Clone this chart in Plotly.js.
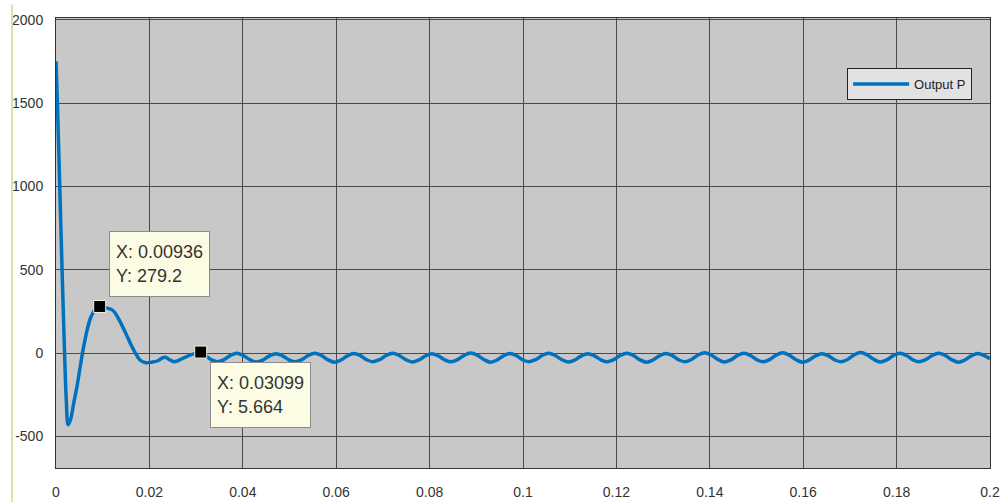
<!DOCTYPE html>
<html>
<head>
<meta charset="utf-8">
<script src="https://cdn.plot.ly/plotly-3.0.1.min.js"></script>
<style>html,body{margin:0;padding:0;background:#fff;}#chart{width:1007px;height:502px;}</style>
</head>
<body>
<div id="chart"></div>
<script>
// ---- data ----
const seriesName = "Output P";

const time = [
  0, 0.0003, 0.0008, 0.0013, 0.0018, 0.0022, 0.0026, 0.0031, 0.0038, 0.0045,
  0.0052, 0.0058, 0.0066, 0.0074, 0.0084, 0.00936, 0.0108, 0.0122, 0.0133, 0.0144,
  0.0154, 0.0163, 0.0172, 0.018, 0.0192, 0.0205, 0.0217, 0.0226, 0.0234, 0.0243,
  0.0252, 0.0262, 0.0273, 0.0285, 0.0298, 0.03099,
  0.0320, 0.0332,
  0.0345, 0.0359, 0.0373, 0.0387, 0.0401, 0.0415,
  0.0429, 0.0443, 0.0457, 0.0471, 0.0485, 0.0499,
  0.0512, 0.0526, 0.0540, 0.0554, 0.0568, 0.0582,
  0.0596, 0.0610, 0.0624, 0.0638, 0.0652, 0.0666,
  0.0679, 0.0693, 0.0707, 0.0721, 0.0735, 0.0749,
  0.0763, 0.0777, 0.0791, 0.0805, 0.0819, 0.0833,
  0.0846, 0.0860, 0.0874, 0.0888, 0.0902, 0.0916,
  0.0930, 0.0944, 0.0958, 0.0972, 0.0986, 0.1000,
  0.1013, 0.1027, 0.1041, 0.1055, 0.1069, 0.1083,
  0.1097, 0.1111, 0.1125, 0.1139, 0.1153, 0.1167,
  0.1180, 0.1194, 0.1208, 0.1222, 0.1236, 0.1250,
  0.1264, 0.1278, 0.1292, 0.1306, 0.1320, 0.1334,
  0.1347, 0.1361, 0.1375, 0.1389, 0.1403, 0.1417,
  0.1431, 0.1445, 0.1459, 0.1473, 0.1487, 0.1501,
  0.1514, 0.1528, 0.1542, 0.1556, 0.1570, 0.1584,
  0.1598, 0.1612, 0.1626, 0.1640, 0.1654, 0.1668,
  0.1681, 0.1695, 0.1709, 0.1723, 0.1737, 0.1751,
  0.1765, 0.1779, 0.1793, 0.1807, 0.1821, 0.1835,
  0.1848, 0.1862, 0.1876, 0.1890, 0.1904, 0.1918,
  0.1932, 0.1946, 0.1960, 0.1974, 0.1988, 0.2000
];

const power = [
  1750, 1500, 1000, 500, 30, -280, -430, -400, -300, -200,
  -80, 20, 130, 210, 262, 279.2, 270, 255, 210, 150,
  90, 36, -10, -42, -58, -55, -48, -32, -25, -40,
  -52, -45, -30, -15, -2, 5.664,
  -14, -40,
  -52, -41, -16, -2, -15, -40,
  -54, -42, -17, -4, -17, -41,
  -53, -40, -15, -1, -14, -40,
  -55, -42, -17, -3, -16, -42,
  -52, -40, -15, -2, -15, -40,
  -54, -42, -18, -5, -18, -42,
  -53, -40, -14, 0, -13, -39,
  -55, -43, -17, -3, -16, -42,
  -52, -40, -15, -2, -15, -40,
  -54, -42, -17, -4, -17, -41,
  -53, -40, -15, -1, -14, -40,
  -55, -42, -17, -3, -16, -42,
  -52, -39, -12, 2, -12, -38,
  -54, -41, -16, -2, -15, -41,
  -53, -40, -13, 1, -13, -39,
  -55, -43, -18, -4, -17, -42,
  -52, -39, -11, 3, -11, -38,
  -54, -41, -16, -2, -15, -41,
  -53, -40, -15, -1, -14, -40,
  -55, -42, -17, -3, -16, -35
];

// data tips
const tipX = [0.00936, 0.03099];
const tipY = [279.2, 5.664];
const tipXLabel = ["0.00936", "0.03099"];
const tipYLabel = ["279.2", "5.664"];

// axis ticks
const xTicks = [0, 0.02, 0.04, 0.06, 0.08, 0.1, 0.12, 0.14, 0.16, 0.18, 0.2];
const xTickText = ["0", "0.02", "0.04", "0.06", "0.08", "0.1", "0.12", "0.14", "0.16", "0.18", "0.2"];
const yTicks = [-500, 0, 500, 1000, 1500, 2000];
const yTickText = ["-500", "0", "500", "1000", "1500", "2000"];

// ---- chart ----
const FONT = "Liberation Sans, Arial, sans-serif";

const traces = [
  {
    x: time, y: power, type: "scatter", mode: "lines", name: seriesName,
    line: {color: "#0072BD", width: 3.5, shape: "spline", smoothing: 1},
    hoverinfo: "skip"
  },
  {
    x: tipX, y: tipY, type: "scatter", mode: "markers", showlegend: false,
    marker: {symbol: "square", size: 12, color: "#000", line: {color: "#f4f4e0", width: 1}},
    hoverinfo: "skip"
  }
];

const tipAnnotations = tipX.map((tx, i) => ({
  x: tx, y: tipY[i], xref: "x", yref: "y",
  text: "X: " + tipXLabel[i] + "<br>Y: " + tipYLabel[i],
  showarrow: false, align: "left", valign: "middle",
  xanchor: "left",
  yanchor: i === 0 ? "bottom" : "top",
  xshift: 9, yshift: i === 0 ? 9 : -10,
  height: 52,
  bgcolor: "#fcfce4", bordercolor: "#8c8c8c", borderwidth: 1, borderpad: 6,
  font: {family: FONT, size: 18, color: "#333"}
}));

const layout = {
  width: 1007, height: 502,
  margin: {l: 56, r: 17, t: 18, b: 34, pad: 0},
  paper_bgcolor: "#ffffff",
  plot_bgcolor: "#c8c8c8",
  showlegend: true,
  legend: {
    x: 0.847, y: 0.889, xanchor: "left", yanchor: "top",
    bgcolor: "#e2e2e2", bordercolor: "#222", borderwidth: 1,
    font: {family: FONT, size: 13, color: "#222"},
    itemwidth: 56
  },
  xaxis: {
    range: [0, 0.2], tickmode: "array", tickvals: xTicks, ticktext: xTickText,
    showgrid: true, gridcolor: "#4a4a4a", gridwidth: 1,
    zeroline: false, showline: true, mirror: true, linecolor: "#333", linewidth: 1,
    ticks: "", ticklabelstandoff: 11,
    tickfont: {family: FONT, size: 14, color: "#333"}
  },
  yaxis: {
    range: [-690, 2010], tickmode: "array", tickvals: yTicks, ticktext: yTickText,
    showgrid: true, gridcolor: "#4a4a4a", gridwidth: 1,
    zeroline: false, showline: true, mirror: true, linecolor: "#333", linewidth: 1,
    ticks: "", ticklabelstandoff: 9,
    tickfont: {family: FONT, size: 14, color: "#333"}
  },
  annotations: tipAnnotations,
  shapes: [
    {type: "line", xref: "paper", yref: "paper", x0: -0.0471, x1: -0.0471, y0: -0.076, y1: 1.03,
     line: {color: "#d3e6a5", width: 2}}
  ]
};

Plotly.newPlot("chart", traces, layout, {displayModeBar: false, staticPlot: true});
</script>
</body>
</html>
